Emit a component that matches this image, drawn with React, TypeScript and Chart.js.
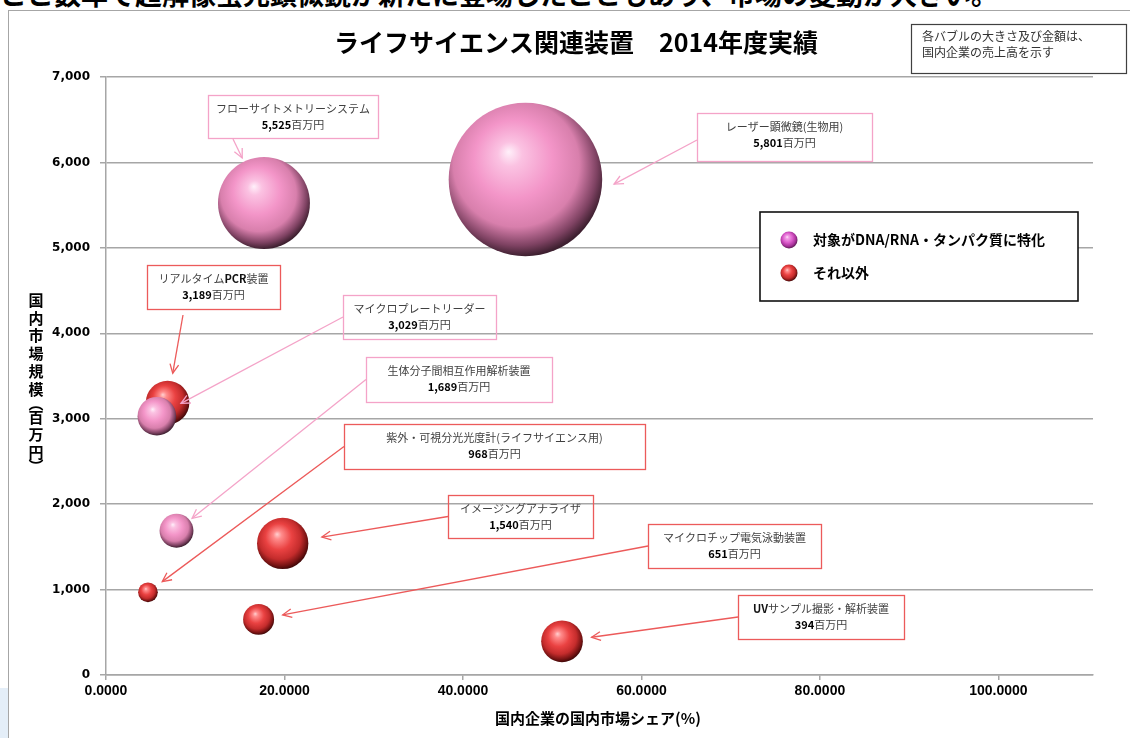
import React, { useEffect, useRef } from "react";
import { Chart, registerables } from "chart.js";

Chart.register(...registerables);

// ---------------- data ----------------
const deviceNames = [
  "フローサイトメトリーシステム",
  "レーザー顕微鏡(生物用)",
  "リアルタイムPCR装置",
  "マイクロプレートリーダー",
  "生体分子間相互作用解析装置",
  "紫外・可視分光光度計(ライフサイエンス用)",
  "イメージングアナライザ",
  "マイクロチップ電気泳動装置",
  "UVサンプル撮影・解析装置",
];
// 国内市場規模 (百万円)
const marketSize = [5525, 5801, 3189, 3029, 1689, 968, 1540, 651, 394];
// 国内企業の国内市場シェア (%)
const domesticShare = [17.7, 47.0, 6.9, 5.7, 7.9, 4.7, 19.8, 17.1, 51.1];
// 国内企業の売上高 (百万円) -> bubble size
const domesticSales = [978, 2727, 220, 173, 133, 45, 305, 111, 201];
// group: true = 対象がDNA/RNA・タンパク質に特化
const isDnaSpecific = [true, true, false, true, true, false, false, false, false];

const seriesNames = ["対象がDNA/RNA・タンパク質に特化", "それ以外"];
const yTickValues = [0, 1000, 2000, 3000, 4000, 5000, 6000, 7000];
const xTickValues = [0, 20, 40, 60, 80, 100];

const chartTitle = "ライフサイエンス関連装置　2014年度実績";
const noteLines = ["各バブルの大きさ及び金額は、", "国内企業の売上高を示す"];
const yAxisTitle = ["国", "内", "市", "場", "規", "模", "︵", "百", "万", "円", "︶"];
const xAxisTitle = "国内企業の国内市場シェア(%)";
const unitText = "百万円";
const headerText = "ここ数年で超解像蛍光顕微鏡が新たに登場したこともあり、市場の変動が大きい。";

// ---------------- layout / style ----------------
const BUBBLE_SCALE = 1.47;
const JP = '"Noto Sans CJK JP", "Noto Sans", sans-serif';

const LABEL_BOXES: any[] = [
  { left: 208, top: 95, width: 170, height: 43, anchor: "bottom", dx: 25, gap: 4, startGap: 1 },
  { left: 697, top: 113, width: 175, height: 48, anchor: "left", gap: 12, startDy: 3, tipAngle: 3 },
  { left: 147, top: 265, width: 133, height: 44, anchor: "bottom", dx: 36, gap: 8, startGap: 6 },
  { left: 343, top: 295, width: 153, height: 44, anchor: "left", gap: 8 },
  { left: 366, top: 357, width: 186, height: 45, anchor: "left", gap: 3 },
  { left: 344, top: 424, width: 301, height: 45, anchor: "left", gap: 8 },
  { left: 448, top: 495, width: 145, height: 43, anchor: "left", gap: 14 },
  { left: 648, top: 524, width: 173, height: 44, anchor: "left", gap: 9 },
  { left: 738, top: 595, width: 166, height: 44, anchor: "left", gap: 9 },
];

const PINK_STOPS: [number, string][] = [
  [0, "#fff0fa"],
  [0.14, "#fbc2e2"],
  [0.45, "#f395c8"],
  [0.72, "#d87fac"],
  [0.9, "#7e4262"],
  [1, "#3e2030"],
];
const RED_STOPS: [number, string][] = [
  [0, "#ffd0d0"],
  [0.14, "#ff8c8c"],
  [0.45, "#ea4242"],
  [0.72, "#c42c2c"],
  [0.9, "#781414"],
  [1, "#420808"],
];
const MAGENTA_STOPS: [number, string][] = [
  [0, "#ffe6fb"],
  [0.15, "#f2a0e6"],
  [0.5, "#dc5ccc"],
  [0.8, "#a8329a"],
  [1, "#5a1a52"],
];

function sphereGradient(ctx: CanvasRenderingContext2D, cx: number, cy: number, r: number, stops: [number, string][]) {
  const g = ctx.createRadialGradient(cx - 0.22 * r, cy - 0.36 * r, 0, cx - 0.08 * r, cy - 0.14 * r, r * 1.14);
  for (const [o, c] of stops) g.addColorStop(o, c);
  return g;
}

function fmt(n: number) {
  return n.toLocaleString("en-US");
}

function drawRich(ctx: CanvasRenderingContext2D, segs: { t: string; b: boolean; c: string }[], cx: number, cy: number, size: number) {
  let total = 0;
  for (const s of segs) {
    ctx.font = `${s.b ? "bold " : ""}${size}px ${JP}`;
    total += ctx.measureText(s.t).width;
  }
  let x = cx - total / 2;
  ctx.textAlign = "left";
  ctx.textBaseline = "middle";
  for (const s of segs) {
    ctx.font = `${s.b ? "bold " : ""}${size}px ${JP}`;
    ctx.fillStyle = s.c;
    ctx.fillText(s.t, x, cy);
    x += ctx.measureText(s.t).width;
  }
}

function nameSegments(name: string) {
  return name
    .split(/([A-Z]+)/)
    .filter((t) => t.length > 0)
    .map((t) => ({ t, b: /^[A-Z]+$/.test(t), c: /^[A-Z]+$/.test(t) ? "#111" : "#404040" }));
}

const overlayPlugin = {
  id: "overlay",
  afterDatasetsDraw(chart: any) {
    const ctx: CanvasRenderingContext2D = chart.ctx;
    const xs = chart.scales.x;
    const ys = chart.scales.y;
    ctx.save();
    LABEL_BOXES.forEach((b, i) => {
      const pink = isDnaSpecific[i];
      const col = pink ? "#f4a3c8" : "#ec5a5a";
      ctx.strokeStyle = col;
      ctx.lineWidth = 1.3;
      ctx.strokeRect(b.left + 0.5, b.top + 0.5, b.width, b.height);
      drawRich(ctx, nameSegments(deviceNames[i]), b.left + b.width / 2, b.top + 14, 11);
      drawRich(
        ctx,
        [
          { t: fmt(marketSize[i]), b: true, c: "#000" },
          { t: unitText, b: false, c: "#404040" },
        ],
        b.left + b.width / 2,
        b.top + 30,
        11
      );
      let sx: number, sy: number;
      if (b.anchor === "bottom") {
        sx = b.left + (b.dx || 0);
        sy = b.top + b.height + (b.startGap || 0);
      } else {
        sx = b.left;
        sy = b.top + b.height / 2 + (b.startDy || 0);
      }
      const cx = xs.getPixelForValue(domesticShare[i]);
      const cy = ys.getPixelForValue(marketSize[i]);
      const r = BUBBLE_SCALE * Math.sqrt(domesticSales[i]);
      let ux: number, uy: number;
      if (typeof b.tipAngle === "number") {
        ux = Math.cos((b.tipAngle * Math.PI) / 180);
        uy = Math.sin((b.tipAngle * Math.PI) / 180);
      } else {
        const dx = sx - cx;
        const dy = sy - cy;
        const len = Math.hypot(dx, dy);
        ux = dx / len;
        uy = dy / len;
      }
      const tx = cx + ux * (r + b.gap);
      const ty = cy + uy * (r + b.gap);
      ctx.strokeStyle = col;
      ctx.lineWidth = 1.3;
      ctx.beginPath();
      ctx.moveTo(sx, sy);
      ctx.lineTo(tx, ty);
      ctx.stroke();
      const ang = Math.atan2(ty - sy, tx - sx);
      const al = 10;
      const spread = 0.45;
      ctx.beginPath();
      ctx.moveTo(tx - al * Math.cos(ang - spread), ty - al * Math.sin(ang - spread));
      ctx.lineTo(tx, ty);
      ctx.lineTo(tx - al * Math.cos(ang + spread), ty - al * Math.sin(ang + spread));
      ctx.stroke();
    });
    ctx.restore();
  },
  afterDraw(chart: any) {
    const ctx: CanvasRenderingContext2D = chart.ctx;
    ctx.save();
    // title
    ctx.fillStyle = "#000";
    ctx.font = `bold 25px ${JP}`;
    ctx.textAlign = "center";
    ctx.textBaseline = "middle";
    ctx.fillText(chartTitle, 576, 42);

    // note box
    ctx.strokeStyle = "#404040";
    ctx.lineWidth = 1.2;
    ctx.strokeRect(911.5, 24.5, 215, 49);
    ctx.font = `12px ${JP}`;
    ctx.fillStyle = "#333";
    ctx.textAlign = "left";
    ctx.fillText(noteLines[0], 922, 36);
    ctx.fillText(noteLines[1], 922, 52);

    // legend box
    ctx.fillStyle = "#fff";
    ctx.fillRect(760, 212, 318, 89);
    ctx.strokeStyle = "#111";
    ctx.lineWidth = 1.6;
    ctx.strokeRect(760, 212, 318, 89);
    const legendRows = [
      { y: 240, stops: MAGENTA_STOPS, text: seriesNames[0] },
      { y: 273, stops: RED_STOPS, text: seriesNames[1] },
    ];
    for (const row of legendRows) {
      ctx.beginPath();
      ctx.fillStyle = sphereGradient(ctx, 789, row.y, 8.5, row.stops);
      ctx.arc(789, row.y, 8.5, 0, Math.PI * 2);
      ctx.fill();
      ctx.fillStyle = "#000";
      ctx.font = `bold 14px ${JP}`;
      ctx.textAlign = "left";
      ctx.textBaseline = "middle";
      ctx.fillText(row.text, 813, row.y);
    }

    // y-axis title (vertical)
    ctx.font = `bold 15px ${JP}`;
    ctx.fillStyle = "#000";
    ctx.textAlign = "center";
    ctx.textBaseline = "middle";
    let yy = 300;
    yAxisTitle.forEach((ch) => {
      const paren = ch === "︵" || ch === "︶";
      if (paren) {
        ctx.fillText(ch, 36, yy - 4);
        yy += 10;
      } else {
        ctx.fillText(ch, 36, yy);
        yy += 17.8;
      }
    });

    // x-axis title
    ctx.font = `bold 15px ${JP}`;
    ctx.textAlign = "center";
    ctx.fillText(xAxisTitle, 598, 718);
    ctx.restore();
  },
};

export default function App() {
  const ref = useRef<HTMLCanvasElement | null>(null);

  useEffect(() => {
    const canvas = ref.current;
    if (!canvas) return;

    const makeBg = (stops: [number, string][], base: string) => (c: any) => {
      if (c.type !== "data") return base;
      const chart = c.chart;
      const xs = chart.scales?.x;
      const ys = chart.scales?.y;
      const raw = c.raw;
      if (!xs || !ys || !raw) return base;
      const cx = xs.getPixelForValue(raw.x);
      const cy = ys.getPixelForValue(raw.y);
      if (!isFinite(cx) || !isFinite(cy)) return base;
      return sphereGradient(chart.ctx, cx, cy, raw.r, stops);
    };

    const pts = (flag: boolean) =>
      marketSize
        .map((y, i) => ({ x: domesticShare[i], y, r: BUBBLE_SCALE * Math.sqrt(domesticSales[i]), flag: isDnaSpecific[i] }))
        .filter((p) => p.flag === flag)
        .map(({ x, y, r }) => ({ x, y, r }));

    const chart = new Chart(canvas, {
      type: "bubble",
      data: {
        datasets: [
          {
            label: seriesNames[0],
            data: pts(true),
            backgroundColor: makeBg(PINK_STOPS, "#f292c6"),
            borderWidth: 0,
          },
          {
            label: seriesNames[1],
            data: pts(false),
            backgroundColor: makeBg(RED_STOPS, "#ea3f3f"),
            borderWidth: 0,
          },
        ],
      },
      options: {
        responsive: false,
        animation: false,
        events: [],
        layout: { autoPadding: false, padding: { top: 77, right: 37, left: 0, bottom: 0 } },
        plugins: {
          legend: { display: false },
          tooltip: { enabled: false },
          title: { display: false },
        },
        scales: {
          x: {
            type: "linear",
            min: 0,
            max: 110.6,
            afterFit: (s: any) => {
              s.height = 63;
              s.paddingLeft = 0;
              s.paddingRight = 0;
              s.paddingTop = 0;
              s.paddingBottom = 0;
            },
            afterBuildTicks: (s: any) => {
              s.ticks = xTickValues.map((v) => ({ value: v }));
            },
            ticks: {
              includeBounds: false,
              padding: 3,
              color: "#000",
              font: { family: '"Liberation Sans", Arial, sans-serif', size: 14, weight: "bold" },
              callback: (v: any) => Number(v).toFixed(4),
            },
            grid: { drawOnChartArea: false, drawTicks: true, tickLength: 5, color: "#a6a6a6", lineWidth: 1.5 },
            border: { display: true, color: "#a6a6a6", width: 1.5 },
          },
          y: {
            type: "linear",
            min: 0,
            max: 7000,
            afterFit: (s: any) => {
              s.width = 106;
              s.paddingLeft = 0;
              s.paddingRight = 0;
              s.paddingTop = 0;
              s.paddingBottom = 0;
            },
            afterBuildTicks: (s: any) => {
              s.ticks = yTickValues.map((v) => ({ value: v }));
            },
            ticks: {
              padding: 10,
              color: "#000",
              font: { family: '"DejaVu Sans", sans-serif', size: 12, weight: "bold" },
              callback: (v: any) => fmt(Number(v)),
            },
            grid: { color: "#a6a6a6", lineWidth: 1.5, tickLength: 6 },
            border: { display: true, color: "#a6a6a6", width: 1.5 },
          },
        },
      },
      plugins: [overlayPlugin],
    });

    return () => chart.destroy();
  }, []);

  return (
    <div style={{ position: "absolute", left: 0, top: 0, width: 1130, height: 738, overflow: "hidden", background: "#fff" }}>
      <div style={{ position: "absolute", left: 0, top: 0, width: 1130, height: 8, overflow: "hidden" }}>
        <div
          style={{
            position: "absolute",
            left: 0,
            top: -21,
            whiteSpace: "nowrap",
            fontFamily: JP,
            fontWeight: "bold",
            fontSize: 27,
            lineHeight: "30px",
            color: "#000",
          }}
        >
          {headerText}
        </div>
      </div>
      <div style={{ position: "absolute", left: 0, top: 688, width: 8, height: 50, background: "#e4eef8" }} />
      <div
        style={{
          position: "absolute",
          left: 8,
          top: 10,
          width: 1130,
          height: 740,
          borderLeft: "1.5px solid #a6a6a6",
          borderTop: "1.5px solid #a6a6a6",
        }}
      />
      <canvas ref={ref} width={1130} height={738} style={{ position: "absolute", left: 0, top: 0, width: 1130, height: 738 }} />
    </div>
  );
}
